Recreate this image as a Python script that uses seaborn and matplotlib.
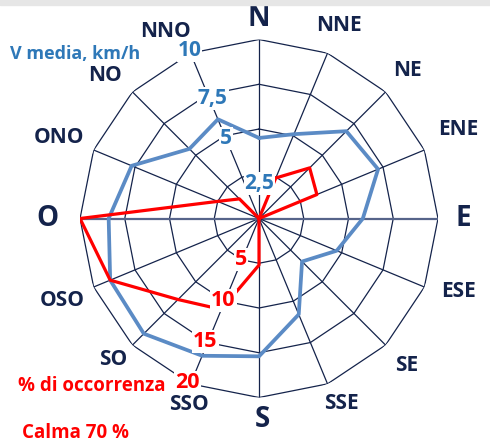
"""
Rosa dei venti: velocità media (km/h) e frequenza di occorrenza (%) per settore.
"""

import numpy as np
import pandas as pd
import matplotlib
matplotlib.use("Agg")
import matplotlib.pyplot as plt
import seaborn as sns

sns.set_style("white")
plt.rcParams["font.family"] = ["Open Sans", "DejaVu Sans"]
plt.rcParams["font.weight"] = "bold"

# --- data ---
directions = ["N", "NNE", "NE", "ENE", "E", "ESE", "SE", "SSE",
              "S", "SSO", "SO", "OSO", "O", "ONO", "NO", "NNO"]
v_media = [4.5, 5.1, 6.9, 7.2, 5.8, 4.7, 3.4, 5.8,
           7.7, 8.3, 9.1, 9.0, 8.4, 7.7, 5.5, 6.0]          # km/h
occorrenza = [0.0, 4.9, 8.0, 7.0, 0.0, 0.0, 0.0, 0.0,
              5.2, 11.0, 12.8, 18.0, 20.0, 5.0, 3.1, 0.0]   # %
v_ticks = [2.5, 5, 7.5, 10]
v_tick_labels = ["2,5", "5", "7,5", "10"]
occ_ticks = [5, 10, 15, 20]
occ_tick_labels = ["5", "10", "15", "20"]

NAVY = "#14234b"
BLUE_LINE = "#5b8bc5"
BLUE_TEXT = "#2e78b8"
RED = "#ff0000"

theta = np.deg2rad(np.arange(len(directions)) * 360 / len(directions))
theta_closed = np.append(theta, theta[0] + 2 * np.pi)

df = pd.DataFrame({
    "theta": theta_closed,
    "v": v_media + v_media[:1],
    "occ": occorrenza + occorrenza[:1],
})

fig = plt.figure(figsize=(4.9, 4.43), dpi=100)
rect = [0.1633, 0.1027, 0.7306, 0.8081]
ax = fig.add_axes(rect, projection="polar")
ax_r = fig.add_axes(rect, projection="polar", frameon=False)

for a in (ax, ax_r):
    a.set_theta_zero_location("N")
    a.set_theta_direction(-1)
    a.set_facecolor("none")

# polygonal grid
for rv in v_ticks:
    ax.plot(theta_closed, [rv] * len(theta_closed), color=NAVY, lw=0.9, zorder=1)
for i, t in enumerate(theta):
    horiz = directions[i] in ("E", "O")
    ax.plot([t, t], [0, 10], color="#56648a" if horiz else NAVY,
            lw=1.6 if horiz else 0.9, zorder=1)

sns.lineplot(data=df, x="theta", y="v", sort=False, estimator=None,
             color=BLUE_LINE, lw=2.7, ax=ax, zorder=3)
sns.lineplot(data=df, x="theta", y="occ", sort=False, estimator=None,
             color=RED, lw=2.3, ax=ax_r, zorder=3)

for a, top in ((ax, 10), (ax_r, 20)):
    a.set_ylim(0, top)
    a.set_xticks([])
    a.set_yticks([])
    a.grid(False)
    a.spines["polar"].set_visible(False)
    a.set_xlabel("")
    a.set_ylabel("")

# direction labels (small angular nudges as in the original layout)
label_r = [11.2, 11.7, 11.7, 12.2, 11.4, 11.85, 11.65, 11.3,
           11.25, 11.1, 11.35, 11.9, 11.8, 12.05, 11.75, 11.7]
label_nudge = [0, 0, 0, -1.5, 0, -2.5, 0, -1.5,
               -1, -1.7, 1, 0, 0, -0.5, -2, -4]
for t, name, r, dn in zip(theta, directions, label_r, label_nudge):
    big = len(name) == 1
    ax.text(t + np.deg2rad(dn), r, name, color=NAVY, fontsize=20 if big else 15,
            fontweight="bold", ha="center", va="center", clip_on=False)

# scale labels (drawn on top axes so their boxes hide the lines)
box = dict(boxstyle="square,pad=0.05", fc="white", ec="none")
v_label_theta = np.deg2rad([0.8, 337.5, 339, 337.5])
v_label_r = [1.97, 4.84, 7.2, 10.15]
for t, r, s in zip(v_label_theta, v_label_r, v_tick_labels):
    ax_r.text(t, r, s, transform=ax.transData, color=BLUE_TEXT, fontsize=15,
              fontweight="bold", ha="center", va="center", bbox=box,
              zorder=5, clip_on=False)
for rv, s in zip(occ_ticks, occ_tick_labels):
    ax_r.text(np.deg2rad(203.5), rv, s, color=RED, fontsize=15.5,
              fontweight="bold", ha="center", va="center", bbox=box,
              zorder=5, clip_on=False)

fig.text(10 / 490, 1 - 54 / 443, "V media, km/h", color=BLUE_TEXT,
         fontsize=13, fontweight="bold", ha="left", va="center")
fig.text(18 / 490, 1 - 386 / 443, "% di occorrenza", color=RED,
         fontsize=13.5, fontweight="bold", ha="left", va="center")
fig.text(22 / 490, 1 - 433 / 443, "Calma 70 %", color=RED,
         fontsize=13.5, fontweight="bold", ha="left", va="center")

# thin grey strip at the top of the slide crop
fig.patches.append(plt.Rectangle((0, 1 - 5 / 443), 1, 5 / 443,
                                 transform=fig.transFigure, color="#e6e6e6",
                                 zorder=0))

fig.savefig("out.png", dpi=100)
